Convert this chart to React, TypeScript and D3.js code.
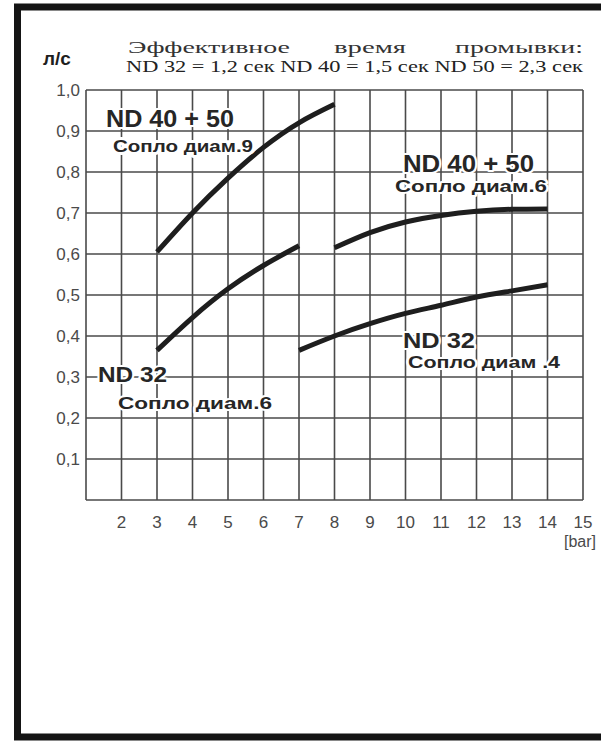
import * as d3 from 'd3';

const W = 601;
const H = 741;

// pressure ticks [bar] and flow ticks [л/с]
const xTicks = [2, 3, 4, 5, 6, 7, 8, 9, 10, 11, 12, 13, 14, 15];
const yTicks = [0.1, 0.2, 0.3, 0.4, 0.5, 0.6, 0.7, 0.8, 0.9, 1.0];

// ND 40 + 50, nozzle 9
const nd4050d9X = [3, 4, 5, 6, 7, 8];
const nd4050d9Y = [0.605, 0.7, 0.785, 0.86, 0.92, 0.965];

// ND 32, nozzle 6
const nd32d6X = [3, 4, 5, 6, 7];
const nd32d6Y = [0.365, 0.445, 0.515, 0.572, 0.62];

// ND 40 + 50, nozzle 6
const nd4050d6X = [8, 9, 10, 11, 12, 13, 14];
const nd4050d6Y = [0.615, 0.652, 0.678, 0.694, 0.704, 0.709, 0.71];

// ND 32, nozzle 4
const nd32d4X = [7, 8, 9, 10, 11, 12, 13, 14];
const nd32d4Y = [0.365, 0.4, 0.43, 0.455, 0.475, 0.495, 0.51, 0.525];

const series = [
  { x: nd4050d9X, y: nd4050d9Y },
  { x: nd32d6X, y: nd32d6Y },
  { x: nd4050d6X, y: nd4050d6Y },
  { x: nd32d4X, y: nd32d4Y },
];

export default function App() {
  const left = 86;
  const right = 583;
  const top = 90;
  const bottom = 500;

  const x = d3.scaleLinear().domain([1, 15]).range([left, right]);
  const y = d3.scaleLinear().domain([0, 1]).range([bottom, top]);

  const line = d3
    .line<[number, number]>()
    .x(d => x(d[0]))
    .y(d => y(d[1]))
    .curve(d3.curveNatural);

  const grid = '#4a4a4a';
  const ink = '#1e1e1e';
  const sans = 'Liberation Sans, Arial, sans-serif';
  const serif = 'Liberation Serif, Times New Roman, serif';

  const halo = {
    stroke: '#fff',
    strokeWidth: 4,
    paintOrder: 'stroke' as const,
    strokeLinejoin: 'round' as const,
  };

  return (
    <svg
      width={W}
      height={H}
      style={{ position: 'absolute', left: 0, top: 0, background: '#fff' }}
    >
      {/* frame */}
      <path d={`M${W + 10},7 H17.5 V737 H${W + 10}`} fill="none" stroke="#151515" strokeWidth={7} />

      {/* header */}
      <text x={43} y={65} fontFamily={sans} fontWeight="bold" fontSize={19} fill={ink}>
        л/с
      </text>
      <g fontFamily={serif} fontSize={16} fill="#333">
        <text x={128} y={53} textLength={162} lengthAdjust="spacingAndGlyphs">
          Эффективное
        </text>
        <text x={334} y={53} textLength={72} lengthAdjust="spacingAndGlyphs">
          время
        </text>
        <text x={455} y={53} textLength={128} lengthAdjust="spacingAndGlyphs">
          промывки:
        </text>
      </g>
      <text x={126} y={72} fontFamily={serif} fontSize={17} fill="#222" textLength={457} lengthAdjust="spacingAndGlyphs">
        ND 32 = 1,2 сек ND 40 = 1,5 сек ND 50 = 2,3 сек
      </text>

      {/* grid */}
      <g stroke={grid} strokeWidth={1.6}>
        {yTicks.map(t => (
          <line key={`h${t}`} x1={left} x2={right} y1={y(t)} y2={y(t)} />
        ))}
        {xTicks.map(t => (
          <line key={`v${t}`} x1={x(t)} x2={x(t)} y1={top} y2={bottom} />
        ))}
        <line x1={left} x2={left} y1={top} y2={bottom} />
        <line x1={left} x2={right} y1={bottom} y2={bottom} />
      </g>

      {/* tick labels */}
      <g fontFamily={sans} fontSize={17} fill="#4a4a4a">
        {yTicks.map(t => (
          <text key={`yl${t}`} x={80} y={y(t)} dy="0.36em" textAnchor="end">
            {t.toFixed(1).replace('.', ',')}
          </text>
        ))}
        {xTicks.map(t => (
          <text key={`xl${t}`} x={x(t)} y={528} textAnchor="middle">
            {t}
          </text>
        ))}
        <text x={564} y={547} fontSize={16}>
          [bar]
        </text>
      </g>

      {/* curves */}
      <g fill="none" stroke={ink} strokeWidth={5} strokeLinecap="butt">
        {series.map((s, i) => (
          <path key={i} d={line(s.x.map((v, j) => [v, s.y[j]] as [number, number])) || ''} />
        ))}
      </g>

      {/* curve labels */}
      <g fontFamily={sans} fontWeight="bold" fill="#262626">
        <text x={106} y={127} fontSize={23} textLength={128} lengthAdjust="spacingAndGlyphs" {...halo}>
          ND 40 + 50
        </text>
        <text x={113} y={152} fontSize={16} textLength={140} lengthAdjust="spacingAndGlyphs" {...halo} strokeWidth={6}>
          Сопло диам.9
        </text>
        <text x={403} y={172} fontSize={23} textLength={131} lengthAdjust="spacingAndGlyphs" {...halo}>
          ND 40 + 50
        </text>
        <text x={395} y={192} fontSize={16} textLength={152} lengthAdjust="spacingAndGlyphs" {...halo}>
          Сопло диам.6
        </text>
        <text x={98} y={382} fontSize={22} textLength={69} lengthAdjust="spacingAndGlyphs" {...halo}>
          ND 32
        </text>
        <text x={118} y={409} fontSize={16} textLength={154} lengthAdjust="spacingAndGlyphs" {...halo}>
          Сопло диам.6
        </text>
        <text x={403} y={348} fontSize={22} textLength={72} lengthAdjust="spacingAndGlyphs" {...halo}>
          ND 32
        </text>
        <text x={408} y={368} fontSize={16} textLength={152} lengthAdjust="spacingAndGlyphs" {...halo}>
          Сопло диам .4
        </text>
      </g>
    </svg>
  );
}
